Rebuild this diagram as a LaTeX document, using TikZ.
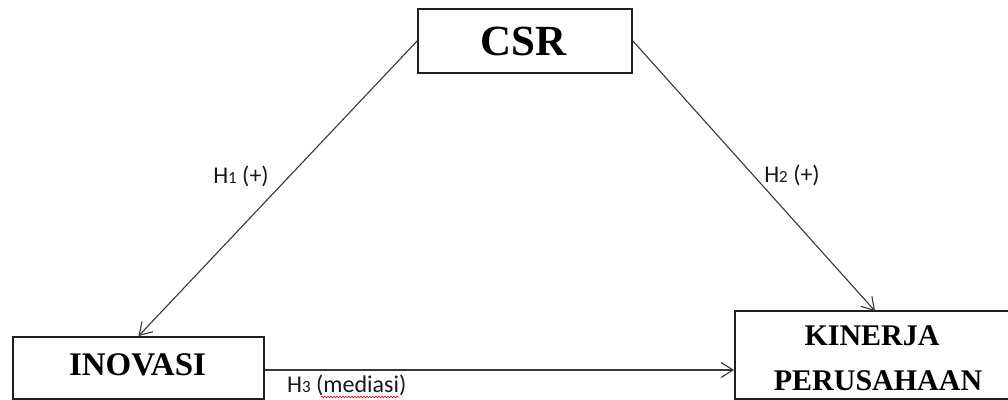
\documentclass[tikz,border=0pt]{standalone}
\usepackage{fontspec}
\setmainfont{Liberation Serif}
\newfontfamily\lblfont{Carlito}
\usetikzlibrary{arrows.meta,decorations.pathmorphing}

\tikzset{
  varbox/.style={draw=black!88, line width=1.8pt, rectangle, inner sep=0pt},
  boxtext/.style={font=\bfseries, inner sep=0pt, anchor=base},
  link/.style={draw=black!78, line width=1.1pt,
    -{Straight Barb[length=12pt,width=15pt,line width=1.1pt]}},
  hyp/.style={font=\lblfont\fontsize{24}{28}\selectfont, text=black!90, inner sep=0pt, anchor=base},
}
\newcommand{\hsub}[1]{{\fontsize{17}{20}\selectfont #1}}

\begin{document}
\begin{tikzpicture}[x=1pt,y=-1pt]
  \useasboundingbox (0,0) rectangle (1008,399);
  \clip (0,0) rectangle (1008,399);
  \fill[white] (0,0) rectangle (1008,399);

  % boxes of the three variables
  \node[varbox, minimum width=214pt, minimum height=64pt] (csr) at (525,41) {};
  \node[varbox, minimum width=251pt, minimum height=62pt] (ino) at (138.5,368) {};
  \node[varbox, minimum width=290pt, minimum height=88pt] (kin) at (880,355) {};

  % their titles
  \node[boxtext, font=\bfseries\fontsize{43}{50}\selectfont] (csrt) at (523.5,55) {CSR};
  \node[boxtext, font=\bfseries\fontsize{33}{40}\selectfont] (inot) at (137.5,375) {INOVASI};
  \node[boxtext, font=\bfseries\fontsize{30}{36}\selectfont] (kint1) at (872,345) {KINERJA};
  \node[boxtext, font=\bfseries\fontsize{30}{36}\selectfont] (kint2) at (878,390) {PERUSAHAAN};

  % hypothesised paths
  \coordinate (kintop) at (875,311);
  \draw[link] (csr.west) -- (ino.north);
  \draw[link] (csr.east) -- (kintop);
  \draw[link] ([yshift=-2pt]ino.east) -- ([yshift=-2pt]ino.east -| kin.west);

  % path labels
  \node[hyp] (h1) at (241,183) {H\hsub{1} (+)};
  \node[hyp] (h2) at (792,182) {H\hsub{2} (+)};
  \node[hyp, anchor=base west] (h3) at (287,392) {H\hsub{3} (mediasi)};
  \draw[red!85!black, line width=0.6pt,
        decorate, decoration={snake, amplitude=0.8pt, segment length=3pt}]
        (321,397) -- (399,397);
\end{tikzpicture}
\end{document}
